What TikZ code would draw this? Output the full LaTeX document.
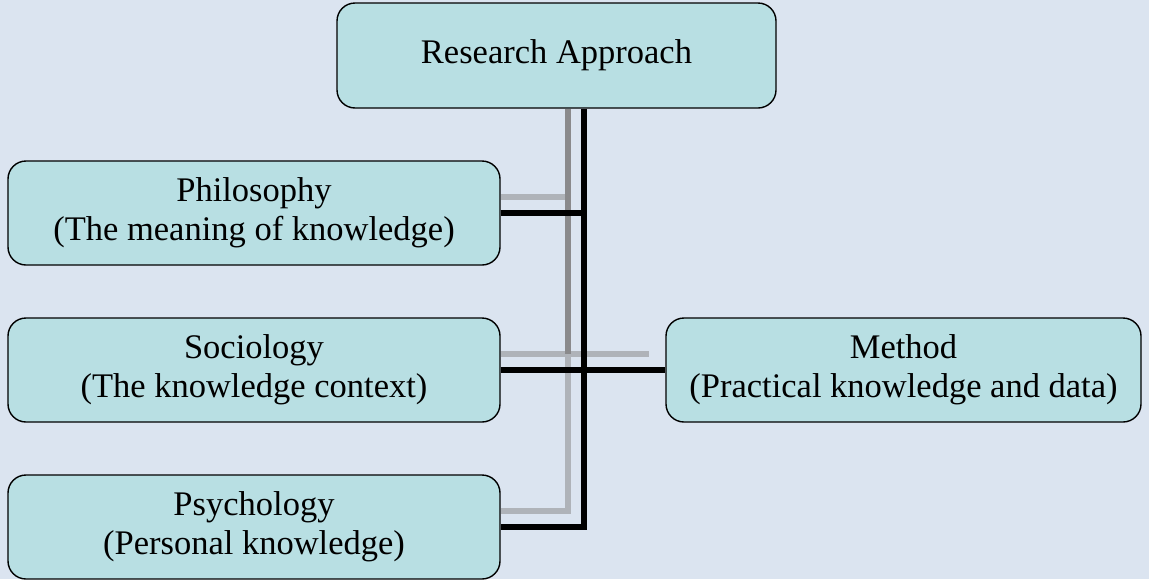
\documentclass[tikz,border=0pt]{standalone}
\usepackage{fontspec}
\setmainfont{Liberation Serif}
\pgfdeclarelayer{back}
\pgfdeclarelayer{lines}
\pgfsetlayers{back,lines,main}
\definecolor{pagebg}{RGB}{219,228,240}
\definecolor{boxfill}{RGB}{184,223,227}
\definecolor{shadowdark}{RGB}{138,138,140}
\definecolor{shadowlight}{RGB}{175,179,185}
\tikzset{
  topic/.style={draw=black, line width=1.4pt, fill=boxfill, rounded corners=18pt,
    align=center, inner sep=0pt, font=\fontsize{34.5}{39}\selectfont},
  conn/.style={line width=5.6pt, black, line join=miter, line cap=butt},
  shdark/.style={line width=5.6pt, shadowdark, line join=miter},
  shlight/.style={line width=5.6pt, shadowlight, line join=miter},
}
\begin{document}
\begin{tikzpicture}[x=1pt, y=-1pt]
\useasboundingbox (0,0) rectangle (1149,579);

% boxes
\node[topic, minimum width=439pt, minimum height=105pt] (top) at (556.5,55.5) {\raisebox{-4pt}{Research Approach}};
\node[topic, minimum width=492pt, minimum height=104pt] (phil) at (254,213) {Philosophy\\(The meaning of knowledge)};
\node[topic, minimum width=492pt, minimum height=104pt] (soc) at (254,370) {Sociology\\(The knowledge context)};
\node[topic, minimum width=492pt, minimum height=104pt] (psy) at (254,527) {Psychology\\(Personal knowledge)};
\node[topic, minimum width=475pt, minimum height=104pt] (meth) at (903.5,370) {Method\\(Practical knowledge and data)};

% trunk positions
\coordinate (bus) at (584,0);
\coordinate (sbus) at (568,0);

% shadow end points, offset up-left from the connectors
\coordinate (sphil) at ([yshift=16pt]phil.east);
\coordinate (ssoc) at ([yshift=16pt]soc.east);
\coordinate (spsy) at ([yshift=16pt]psy.east);
\coordinate (smeth) at ([xshift=-16pt,yshift=16pt]meth.west);

\begin{pgfonlayer}{back}
  \fill[pagebg] (0,0) rectangle (1149,579);
\end{pgfonlayer}

\begin{pgfonlayer}{lines}
  % shadows
  \draw[shlight] (sphil) -- (sphil -| sbus);
  \draw[shlight] (ssoc) -- (smeth);
  \draw[shlight] (ssoc -| sbus) -- (spsy -| sbus) -- (spsy);
  \draw[shdark] (top.south -| sbus) -- (ssoc -| sbus);
  % connectors
  \draw[conn] (top.south -| bus) -- (psy.east -| bus) -- (psy.east);
  \draw[conn] (phil.east) -- (phil.east -| bus);
  \draw[conn] (soc.east) -- (meth.west);
\end{pgfonlayer}
\end{tikzpicture}
\end{document}
